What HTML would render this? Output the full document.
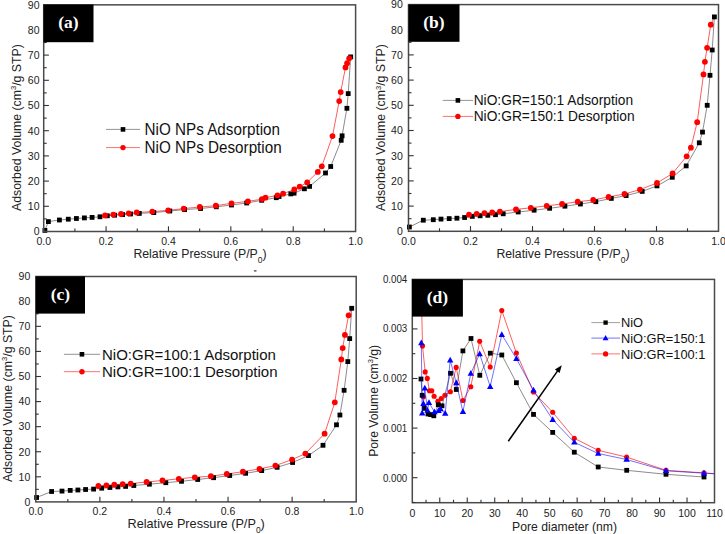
<!DOCTYPE html><html><head><meta charset="utf-8"><style>html,body{margin:0;padding:0;background:#fff;overflow:hidden}svg{display:block}</style></head><body>
<svg width="725" height="534" viewBox="0 0 725 534">
<rect x="0" y="0" width="725" height="534" fill="#fff"/>
<polyline points="105,215.4 113.3,214.6 121,214 128.7,213.3 136.7,212.5 152.3,211.6 168.2,210.4 183.7,208.6 199.8,207 215.8,205.7 231.5,203.3 247.9,201.4 262,199.1 265.5,197.7 277.5,195.3 283.1,193.7 294.3,189.5 299.7,186.7 307.2,182.4 317.8,171.9 321.8,166.3 332.5,136.1 339.2,101.1 340.7,92.1 345.5,67.4 347.1,63.2 349.2,58.3 350.7,56.9" fill="none" stroke="#ff0000" stroke-width="0.8" stroke-opacity="0.8" stroke-linejoin="round"/>
<polyline points="44.9,230.4 48.4,221.6 59.4,220 68.3,219.2 76.4,218.5 84.4,217.9 92.1,217.4 100,216.8 107.3,215.8 114.6,215.2 122.6,214.6 130.5,214 139.3,213.4 153.8,212.6 169.8,211 184.6,209.6 200.55,208.5 216.3,206.8 231.5,205 246.7,203 261.7,200.3 276.3,197.7 279.1,196.5 290.8,193.9 294.1,193.2 304.4,188.8 309.6,186.4 325.5,173 330.7,166.5 341.2,140.3 342.1,135.8 346.9,108.3 348.2,93.6 350.7,56.9" fill="none" stroke="#555" stroke-width="0.8" stroke-opacity="0.85" stroke-linejoin="round"/>
<rect x="42.5" y="228" width="4.8" height="4.8" fill="#000"/>
<rect x="46" y="219.2" width="4.8" height="4.8" fill="#000"/>
<rect x="57" y="217.6" width="4.8" height="4.8" fill="#000"/>
<rect x="65.9" y="216.8" width="4.8" height="4.8" fill="#000"/>
<rect x="74" y="216.1" width="4.8" height="4.8" fill="#000"/>
<rect x="82" y="215.5" width="4.8" height="4.8" fill="#000"/>
<rect x="89.7" y="215" width="4.8" height="4.8" fill="#000"/>
<rect x="97.6" y="214.4" width="4.8" height="4.8" fill="#000"/>
<rect x="104.9" y="213.4" width="4.8" height="4.8" fill="#000"/>
<rect x="112.2" y="212.8" width="4.8" height="4.8" fill="#000"/>
<rect x="120.2" y="212.2" width="4.8" height="4.8" fill="#000"/>
<rect x="128.1" y="211.6" width="4.8" height="4.8" fill="#000"/>
<rect x="136.9" y="211" width="4.8" height="4.8" fill="#000"/>
<rect x="151.4" y="210.2" width="4.8" height="4.8" fill="#000"/>
<rect x="167.4" y="208.6" width="4.8" height="4.8" fill="#000"/>
<rect x="182.2" y="207.2" width="4.8" height="4.8" fill="#000"/>
<rect x="198.15" y="206.1" width="4.8" height="4.8" fill="#000"/>
<rect x="213.9" y="204.4" width="4.8" height="4.8" fill="#000"/>
<rect x="229.1" y="202.6" width="4.8" height="4.8" fill="#000"/>
<rect x="244.3" y="200.6" width="4.8" height="4.8" fill="#000"/>
<rect x="259.3" y="197.9" width="4.8" height="4.8" fill="#000"/>
<rect x="273.9" y="195.3" width="4.8" height="4.8" fill="#000"/>
<rect x="276.7" y="194.1" width="4.8" height="4.8" fill="#000"/>
<rect x="288.4" y="191.5" width="4.8" height="4.8" fill="#000"/>
<rect x="291.7" y="190.8" width="4.8" height="4.8" fill="#000"/>
<rect x="302" y="186.4" width="4.8" height="4.8" fill="#000"/>
<rect x="307.2" y="184" width="4.8" height="4.8" fill="#000"/>
<rect x="323.1" y="170.6" width="4.8" height="4.8" fill="#000"/>
<rect x="328.3" y="164.1" width="4.8" height="4.8" fill="#000"/>
<rect x="338.8" y="137.9" width="4.8" height="4.8" fill="#000"/>
<rect x="339.7" y="133.4" width="4.8" height="4.8" fill="#000"/>
<rect x="344.5" y="105.9" width="4.8" height="4.8" fill="#000"/>
<rect x="345.8" y="91.2" width="4.8" height="4.8" fill="#000"/>
<rect x="348.3" y="54.5" width="4.8" height="4.8" fill="#000"/>
<circle cx="105" cy="215.4" r="2.9" fill="#f00"/>
<circle cx="113.3" cy="214.6" r="2.9" fill="#f00"/>
<circle cx="121" cy="214" r="2.9" fill="#f00"/>
<circle cx="128.7" cy="213.3" r="2.9" fill="#f00"/>
<circle cx="136.7" cy="212.5" r="2.9" fill="#f00"/>
<circle cx="152.3" cy="211.6" r="2.9" fill="#f00"/>
<circle cx="168.2" cy="210.4" r="2.9" fill="#f00"/>
<circle cx="183.7" cy="208.6" r="2.9" fill="#f00"/>
<circle cx="199.8" cy="207" r="2.9" fill="#f00"/>
<circle cx="215.8" cy="205.7" r="2.9" fill="#f00"/>
<circle cx="231.5" cy="203.3" r="2.9" fill="#f00"/>
<circle cx="247.9" cy="201.4" r="2.9" fill="#f00"/>
<circle cx="262" cy="199.1" r="2.9" fill="#f00"/>
<circle cx="265.5" cy="197.7" r="2.9" fill="#f00"/>
<circle cx="277.5" cy="195.3" r="2.9" fill="#f00"/>
<circle cx="283.1" cy="193.7" r="2.9" fill="#f00"/>
<circle cx="294.3" cy="189.5" r="2.9" fill="#f00"/>
<circle cx="299.7" cy="186.7" r="2.9" fill="#f00"/>
<circle cx="307.2" cy="182.4" r="2.9" fill="#f00"/>
<circle cx="317.8" cy="171.9" r="2.9" fill="#f00"/>
<circle cx="321.8" cy="166.3" r="2.9" fill="#f00"/>
<circle cx="332.5" cy="136.1" r="2.9" fill="#f00"/>
<circle cx="339.2" cy="101.1" r="2.9" fill="#f00"/>
<circle cx="340.7" cy="92.1" r="2.9" fill="#f00"/>
<circle cx="345.5" cy="67.4" r="2.9" fill="#f00"/>
<circle cx="347.1" cy="63.2" r="2.9" fill="#f00"/>
<circle cx="349.2" cy="58.3" r="2.9" fill="#f00"/>
<rect x="43.7" y="4.85" width="311.9" height="226.65" fill="none" stroke="#4a4a4a" stroke-width="1.5"/>
<line x1="106.08" y1="231.5" x2="106.08" y2="226.3" stroke="#333" stroke-width="1.1"/>
<line x1="168.46" y1="231.5" x2="168.46" y2="226.3" stroke="#333" stroke-width="1.1"/>
<line x1="230.84" y1="231.5" x2="230.84" y2="226.3" stroke="#333" stroke-width="1.1"/>
<line x1="293.22" y1="231.5" x2="293.22" y2="226.3" stroke="#333" stroke-width="1.1"/>
<line x1="74.89" y1="231.5" x2="74.89" y2="228.5" stroke="#333" stroke-width="1.1"/>
<line x1="137.27" y1="231.5" x2="137.27" y2="228.5" stroke="#333" stroke-width="1.1"/>
<line x1="199.65" y1="231.5" x2="199.65" y2="228.5" stroke="#333" stroke-width="1.1"/>
<line x1="262.03" y1="231.5" x2="262.03" y2="228.5" stroke="#333" stroke-width="1.1"/>
<line x1="324.41" y1="231.5" x2="324.41" y2="228.5" stroke="#333" stroke-width="1.1"/>
<line x1="43.7" y1="206.3" x2="48.9" y2="206.3" stroke="#333" stroke-width="1.1"/>
<line x1="43.7" y1="181.1" x2="48.9" y2="181.1" stroke="#333" stroke-width="1.1"/>
<line x1="43.7" y1="155.9" x2="48.9" y2="155.9" stroke="#333" stroke-width="1.1"/>
<line x1="43.7" y1="130.7" x2="48.9" y2="130.7" stroke="#333" stroke-width="1.1"/>
<line x1="43.7" y1="105.5" x2="48.9" y2="105.5" stroke="#333" stroke-width="1.1"/>
<line x1="43.7" y1="80.3" x2="48.9" y2="80.3" stroke="#333" stroke-width="1.1"/>
<line x1="43.7" y1="55.1" x2="48.9" y2="55.1" stroke="#333" stroke-width="1.1"/>
<line x1="43.7" y1="29.9" x2="48.9" y2="29.9" stroke="#333" stroke-width="1.1"/>
<line x1="43.7" y1="218.9" x2="46.7" y2="218.9" stroke="#333" stroke-width="1.1"/>
<line x1="43.7" y1="193.7" x2="46.7" y2="193.7" stroke="#333" stroke-width="1.1"/>
<line x1="43.7" y1="168.5" x2="46.7" y2="168.5" stroke="#333" stroke-width="1.1"/>
<line x1="43.7" y1="143.3" x2="46.7" y2="143.3" stroke="#333" stroke-width="1.1"/>
<line x1="43.7" y1="118.1" x2="46.7" y2="118.1" stroke="#333" stroke-width="1.1"/>
<line x1="43.7" y1="92.9" x2="46.7" y2="92.9" stroke="#333" stroke-width="1.1"/>
<line x1="43.7" y1="67.7" x2="46.7" y2="67.7" stroke="#333" stroke-width="1.1"/>
<line x1="43.7" y1="42.5" x2="46.7" y2="42.5" stroke="#333" stroke-width="1.1"/>
<line x1="43.7" y1="17.3" x2="46.7" y2="17.3" stroke="#333" stroke-width="1.1"/>
<text x="43.7" y="244.9" font-family='"Liberation Sans", sans-serif' font-size="10.5" text-anchor="middle" fill="#222" font-weight="normal" >0.0</text>
<text x="106.08" y="244.9" font-family='"Liberation Sans", sans-serif' font-size="10.5" text-anchor="middle" fill="#222" font-weight="normal" >0.2</text>
<text x="168.46" y="244.9" font-family='"Liberation Sans", sans-serif' font-size="10.5" text-anchor="middle" fill="#222" font-weight="normal" >0.4</text>
<text x="230.84" y="244.9" font-family='"Liberation Sans", sans-serif' font-size="10.5" text-anchor="middle" fill="#222" font-weight="normal" >0.6</text>
<text x="293.22" y="244.9" font-family='"Liberation Sans", sans-serif' font-size="10.5" text-anchor="middle" fill="#222" font-weight="normal" >0.8</text>
<text x="355.6" y="244.9" font-family='"Liberation Sans", sans-serif' font-size="10.5" text-anchor="middle" fill="#222" font-weight="normal" >1.0</text>
<text x="39.5" y="235.3" font-family='"Liberation Sans", sans-serif' font-size="10.5" text-anchor="end" fill="#222" font-weight="normal" >0</text>
<text x="39.5" y="210.1" font-family='"Liberation Sans", sans-serif' font-size="10.5" text-anchor="end" fill="#222" font-weight="normal" >10</text>
<text x="39.5" y="184.9" font-family='"Liberation Sans", sans-serif' font-size="10.5" text-anchor="end" fill="#222" font-weight="normal" >20</text>
<text x="39.5" y="159.7" font-family='"Liberation Sans", sans-serif' font-size="10.5" text-anchor="end" fill="#222" font-weight="normal" >30</text>
<text x="39.5" y="134.5" font-family='"Liberation Sans", sans-serif' font-size="10.5" text-anchor="end" fill="#222" font-weight="normal" >40</text>
<text x="39.5" y="109.3" font-family='"Liberation Sans", sans-serif' font-size="10.5" text-anchor="end" fill="#222" font-weight="normal" >50</text>
<text x="39.5" y="84.1" font-family='"Liberation Sans", sans-serif' font-size="10.5" text-anchor="end" fill="#222" font-weight="normal" >60</text>
<text x="39.5" y="58.9" font-family='"Liberation Sans", sans-serif' font-size="10.5" text-anchor="end" fill="#222" font-weight="normal" >70</text>
<text x="39.5" y="33.7" font-family='"Liberation Sans", sans-serif' font-size="10.5" text-anchor="end" fill="#222" font-weight="normal" >80</text>
<text x="39.5" y="8.5" font-family='"Liberation Sans", sans-serif' font-size="10.5" text-anchor="end" fill="#222" font-weight="normal" >90</text>
<text x="200" y="257.8" font-family='"Liberation Sans", sans-serif' font-size="12.3" text-anchor="middle" fill="#222">Relative Pressure (P/P<tspan font-size="8.5" dy="4.8">0</tspan><tspan dy="-4.8">)</tspan></text>
<text transform="translate(20.6,127.6) rotate(-90)" x="0" y="0" font-family='"Liberation Sans", sans-serif' font-size="12.3" text-anchor="middle" fill="#222">Adsorbed Volume (cm<tspan font-size="7.5" dy="-4.5">3</tspan><tspan dy="4.5">/g STP)</tspan></text>
<line x1="106" y1="129.4" x2="140" y2="129.4" stroke="#555" stroke-width="0.8" stroke-opacity="0.8"/>
<line x1="106" y1="147.6" x2="140" y2="147.6" stroke="#f00" stroke-width="0.8" stroke-opacity="0.7"/>
<rect x="120.7" y="127.1" width="4.6" height="4.6" fill="#000"/>
<circle cx="123" cy="147.6" r="2.7" fill="#f00"/>
<text transform="translate(144.6,134.7) scale(0.94,1)" x="0" y="0" font-family='"Liberation Sans", sans-serif' font-size="16.2" text-anchor="start" fill="#111" font-weight="normal" >NiO NPs Adsorption</text>
<text transform="translate(144.6,152.8) scale(0.94,1)" x="0" y="0" font-family='"Liberation Sans", sans-serif' font-size="16.2" text-anchor="start" fill="#111" font-weight="normal" >NiO NPs Desorption</text>
<rect x="43.5" y="4.5" width="50" height="37.7" fill="#000"/>
<text x="68.5" y="28.25" font-family='"Liberation Serif", serif' font-size="17.5" text-anchor="middle" fill="#fff" font-weight="bold" >(a)</text>
<polyline points="469,214.7 476.7,213.8 484.5,213.1 492.2,212.5 499.9,211.6 516,209.4 530.8,207.8 546.7,205.8 562.1,204 577.7,201.7 593.2,200 608.6,196.9 624.5,194 640,189.6 657,183 672.6,173.4 686.7,156.3 690.9,147.7 697.2,122.2 703.5,74.4 704.9,61.8 707.1,47.8 710.8,24.7 714.4,16.9" fill="none" stroke="#ff0000" stroke-width="0.8" stroke-opacity="0.8" stroke-linejoin="round"/>
<polyline points="409.4,227 423.3,220.2 433.3,219.7 441,219.1 449.2,218.6 456.9,218.2 464.6,217.5 472.3,216.4 480.1,215.8 487.8,215.3 495.5,214.7 503.2,213.8 518.2,212 534.1,210.2 549.6,208.3 564.9,206.2 580.4,204 595.8,201.7 611.3,198.4 626.1,195.6 642.2,191.4 657,185.9 672.3,177.3 686.2,165.9 699.3,142.8 702.5,132.1 707.2,105.3 710,75.3 712.2,50 714.4,16.9" fill="none" stroke="#555" stroke-width="0.8" stroke-opacity="0.85" stroke-linejoin="round"/>
<rect x="407" y="224.6" width="4.8" height="4.8" fill="#000"/>
<rect x="420.9" y="217.8" width="4.8" height="4.8" fill="#000"/>
<rect x="430.9" y="217.3" width="4.8" height="4.8" fill="#000"/>
<rect x="438.6" y="216.7" width="4.8" height="4.8" fill="#000"/>
<rect x="446.8" y="216.2" width="4.8" height="4.8" fill="#000"/>
<rect x="454.5" y="215.8" width="4.8" height="4.8" fill="#000"/>
<rect x="462.2" y="215.1" width="4.8" height="4.8" fill="#000"/>
<rect x="469.9" y="214" width="4.8" height="4.8" fill="#000"/>
<rect x="477.7" y="213.4" width="4.8" height="4.8" fill="#000"/>
<rect x="485.4" y="212.9" width="4.8" height="4.8" fill="#000"/>
<rect x="493.1" y="212.3" width="4.8" height="4.8" fill="#000"/>
<rect x="500.8" y="211.4" width="4.8" height="4.8" fill="#000"/>
<rect x="515.8" y="209.6" width="4.8" height="4.8" fill="#000"/>
<rect x="531.7" y="207.8" width="4.8" height="4.8" fill="#000"/>
<rect x="547.2" y="205.9" width="4.8" height="4.8" fill="#000"/>
<rect x="562.5" y="203.8" width="4.8" height="4.8" fill="#000"/>
<rect x="578" y="201.6" width="4.8" height="4.8" fill="#000"/>
<rect x="593.4" y="199.3" width="4.8" height="4.8" fill="#000"/>
<rect x="608.9" y="196" width="4.8" height="4.8" fill="#000"/>
<rect x="623.7" y="193.2" width="4.8" height="4.8" fill="#000"/>
<rect x="639.8" y="189" width="4.8" height="4.8" fill="#000"/>
<rect x="654.6" y="183.5" width="4.8" height="4.8" fill="#000"/>
<rect x="669.9" y="174.9" width="4.8" height="4.8" fill="#000"/>
<rect x="683.8" y="163.5" width="4.8" height="4.8" fill="#000"/>
<rect x="696.9" y="140.4" width="4.8" height="4.8" fill="#000"/>
<rect x="700.1" y="129.7" width="4.8" height="4.8" fill="#000"/>
<rect x="704.8" y="102.9" width="4.8" height="4.8" fill="#000"/>
<rect x="707.6" y="72.9" width="4.8" height="4.8" fill="#000"/>
<rect x="709.8" y="47.6" width="4.8" height="4.8" fill="#000"/>
<rect x="712" y="14.5" width="4.8" height="4.8" fill="#000"/>
<circle cx="469" cy="214.7" r="2.9" fill="#f00"/>
<circle cx="476.7" cy="213.8" r="2.9" fill="#f00"/>
<circle cx="484.5" cy="213.1" r="2.9" fill="#f00"/>
<circle cx="492.2" cy="212.5" r="2.9" fill="#f00"/>
<circle cx="499.9" cy="211.6" r="2.9" fill="#f00"/>
<circle cx="516" cy="209.4" r="2.9" fill="#f00"/>
<circle cx="530.8" cy="207.8" r="2.9" fill="#f00"/>
<circle cx="546.7" cy="205.8" r="2.9" fill="#f00"/>
<circle cx="562.1" cy="204" r="2.9" fill="#f00"/>
<circle cx="577.7" cy="201.7" r="2.9" fill="#f00"/>
<circle cx="593.2" cy="200" r="2.9" fill="#f00"/>
<circle cx="608.6" cy="196.9" r="2.9" fill="#f00"/>
<circle cx="624.5" cy="194" r="2.9" fill="#f00"/>
<circle cx="640" cy="189.6" r="2.9" fill="#f00"/>
<circle cx="657" cy="183" r="2.9" fill="#f00"/>
<circle cx="672.6" cy="173.4" r="2.9" fill="#f00"/>
<circle cx="686.7" cy="156.3" r="2.9" fill="#f00"/>
<circle cx="690.9" cy="147.7" r="2.9" fill="#f00"/>
<circle cx="697.2" cy="122.2" r="2.9" fill="#f00"/>
<circle cx="703.5" cy="74.4" r="2.9" fill="#f00"/>
<circle cx="704.9" cy="61.8" r="2.9" fill="#f00"/>
<circle cx="707.1" cy="47.8" r="2.9" fill="#f00"/>
<circle cx="710.8" cy="24.7" r="2.9" fill="#f00"/>
<rect x="408.5" y="4.6" width="310" height="226.7" fill="none" stroke="#4a4a4a" stroke-width="1.5"/>
<line x1="470.5" y1="231.3" x2="470.5" y2="226.1" stroke="#333" stroke-width="1.1"/>
<line x1="532.5" y1="231.3" x2="532.5" y2="226.1" stroke="#333" stroke-width="1.1"/>
<line x1="594.5" y1="231.3" x2="594.5" y2="226.1" stroke="#333" stroke-width="1.1"/>
<line x1="656.5" y1="231.3" x2="656.5" y2="226.1" stroke="#333" stroke-width="1.1"/>
<line x1="439.5" y1="231.3" x2="439.5" y2="228.3" stroke="#333" stroke-width="1.1"/>
<line x1="501.5" y1="231.3" x2="501.5" y2="228.3" stroke="#333" stroke-width="1.1"/>
<line x1="563.5" y1="231.3" x2="563.5" y2="228.3" stroke="#333" stroke-width="1.1"/>
<line x1="625.5" y1="231.3" x2="625.5" y2="228.3" stroke="#333" stroke-width="1.1"/>
<line x1="687.5" y1="231.3" x2="687.5" y2="228.3" stroke="#333" stroke-width="1.1"/>
<line x1="408.5" y1="206.1" x2="413.7" y2="206.1" stroke="#333" stroke-width="1.1"/>
<line x1="408.5" y1="180.9" x2="413.7" y2="180.9" stroke="#333" stroke-width="1.1"/>
<line x1="408.5" y1="155.7" x2="413.7" y2="155.7" stroke="#333" stroke-width="1.1"/>
<line x1="408.5" y1="130.5" x2="413.7" y2="130.5" stroke="#333" stroke-width="1.1"/>
<line x1="408.5" y1="105.3" x2="413.7" y2="105.3" stroke="#333" stroke-width="1.1"/>
<line x1="408.5" y1="80.1" x2="413.7" y2="80.1" stroke="#333" stroke-width="1.1"/>
<line x1="408.5" y1="54.9" x2="413.7" y2="54.9" stroke="#333" stroke-width="1.1"/>
<line x1="408.5" y1="29.7" x2="413.7" y2="29.7" stroke="#333" stroke-width="1.1"/>
<line x1="408.5" y1="218.7" x2="411.5" y2="218.7" stroke="#333" stroke-width="1.1"/>
<line x1="408.5" y1="193.5" x2="411.5" y2="193.5" stroke="#333" stroke-width="1.1"/>
<line x1="408.5" y1="168.3" x2="411.5" y2="168.3" stroke="#333" stroke-width="1.1"/>
<line x1="408.5" y1="143.1" x2="411.5" y2="143.1" stroke="#333" stroke-width="1.1"/>
<line x1="408.5" y1="117.9" x2="411.5" y2="117.9" stroke="#333" stroke-width="1.1"/>
<line x1="408.5" y1="92.7" x2="411.5" y2="92.7" stroke="#333" stroke-width="1.1"/>
<line x1="408.5" y1="67.5" x2="411.5" y2="67.5" stroke="#333" stroke-width="1.1"/>
<line x1="408.5" y1="42.3" x2="411.5" y2="42.3" stroke="#333" stroke-width="1.1"/>
<line x1="408.5" y1="17.1" x2="411.5" y2="17.1" stroke="#333" stroke-width="1.1"/>
<text x="408.5" y="244.7" font-family='"Liberation Sans", sans-serif' font-size="10.5" text-anchor="middle" fill="#222" font-weight="normal" >0.0</text>
<text x="470.5" y="244.7" font-family='"Liberation Sans", sans-serif' font-size="10.5" text-anchor="middle" fill="#222" font-weight="normal" >0.2</text>
<text x="532.5" y="244.7" font-family='"Liberation Sans", sans-serif' font-size="10.5" text-anchor="middle" fill="#222" font-weight="normal" >0.4</text>
<text x="594.5" y="244.7" font-family='"Liberation Sans", sans-serif' font-size="10.5" text-anchor="middle" fill="#222" font-weight="normal" >0.6</text>
<text x="656.5" y="244.7" font-family='"Liberation Sans", sans-serif' font-size="10.5" text-anchor="middle" fill="#222" font-weight="normal" >0.8</text>
<text x="718.5" y="244.7" font-family='"Liberation Sans", sans-serif' font-size="10.5" text-anchor="middle" fill="#222" font-weight="normal" >1.0</text>
<text x="402.8" y="235.1" font-family='"Liberation Sans", sans-serif' font-size="10.5" text-anchor="end" fill="#222" font-weight="normal" >0</text>
<text x="402.8" y="209.9" font-family='"Liberation Sans", sans-serif' font-size="10.5" text-anchor="end" fill="#222" font-weight="normal" >10</text>
<text x="402.8" y="184.7" font-family='"Liberation Sans", sans-serif' font-size="10.5" text-anchor="end" fill="#222" font-weight="normal" >20</text>
<text x="402.8" y="159.5" font-family='"Liberation Sans", sans-serif' font-size="10.5" text-anchor="end" fill="#222" font-weight="normal" >30</text>
<text x="402.8" y="134.3" font-family='"Liberation Sans", sans-serif' font-size="10.5" text-anchor="end" fill="#222" font-weight="normal" >40</text>
<text x="402.8" y="109.1" font-family='"Liberation Sans", sans-serif' font-size="10.5" text-anchor="end" fill="#222" font-weight="normal" >50</text>
<text x="402.8" y="83.9" font-family='"Liberation Sans", sans-serif' font-size="10.5" text-anchor="end" fill="#222" font-weight="normal" >60</text>
<text x="402.8" y="58.7" font-family='"Liberation Sans", sans-serif' font-size="10.5" text-anchor="end" fill="#222" font-weight="normal" >70</text>
<text x="402.8" y="33.5" font-family='"Liberation Sans", sans-serif' font-size="10.5" text-anchor="end" fill="#222" font-weight="normal" >80</text>
<text x="402.8" y="8.3" font-family='"Liberation Sans", sans-serif' font-size="10.5" text-anchor="end" fill="#222" font-weight="normal" >90</text>
<text x="563" y="257.8" font-family='"Liberation Sans", sans-serif' font-size="12.3" text-anchor="middle" fill="#222">Relative Pressure (P/P<tspan font-size="8.5" dy="4.8">0</tspan><tspan dy="-4.8">)</tspan></text>
<text transform="translate(385.4,127.6) rotate(-90)" x="0" y="0" font-family='"Liberation Sans", sans-serif' font-size="12.3" text-anchor="middle" fill="#222">Adsorbed Volume (cm<tspan font-size="7.5" dy="-4.5">3</tspan><tspan dy="4.5">/g STP)</tspan></text>
<line x1="442.8" y1="100.4" x2="473" y2="100.4" stroke="#555" stroke-width="0.8" stroke-opacity="0.8"/>
<line x1="442.8" y1="116.4" x2="473" y2="116.4" stroke="#f00" stroke-width="0.8" stroke-opacity="0.7"/>
<rect x="455.6" y="98.1" width="4.6" height="4.6" fill="#000"/>
<circle cx="457.9" cy="116.4" r="2.7" fill="#f00"/>
<text x="473.7" y="105.35" font-family='"Liberation Sans", sans-serif' font-size="13.75" text-anchor="start" fill="#111" font-weight="normal" >NiO:GR=150:1 Adsorption</text>
<text x="473.7" y="121.35" font-family='"Liberation Sans", sans-serif' font-size="13.75" text-anchor="start" fill="#111" font-weight="normal" >NiO:GR=150:1 Desorption</text>
<rect x="408.5" y="4.5" width="51" height="37.3" fill="#000"/>
<text x="434" y="28.05" font-family='"Liberation Serif", serif' font-size="17.5" text-anchor="middle" fill="#fff" font-weight="bold" >(b)</text>
<polyline points="98.4,486 106.4,485.3 114.3,484.7 122.7,484.2 130.7,483.6 146.6,482 162.5,480.5 178.8,478.8 194.8,477.3 210.9,476.2 226.8,474 242.9,471.7 259.5,468.9 275.4,465.6 292.1,459.6 305.4,453.6 324.6,433.7 334.8,402.3 341.3,359.4 342.7,348.1 344.9,334.9 348.6,315.3 351.7,308.3" fill="none" stroke="#ff0000" stroke-width="0.8" stroke-opacity="0.8" stroke-linejoin="round"/>
<polyline points="36.6,497.5 51.6,491.5 62,491.1 70.2,490.4 77.9,490 85.6,489.5 93.6,489.1 101.7,488.2 109.9,487.5 117.9,486.9 125.6,486.4 133.8,485.5 149.4,484.2 165.8,482.7 181.5,481.3 197.7,479.5 213.6,477.7 229.7,475.5 245.6,473.3 261.7,470.6 277.1,467.3 292.6,462.5 308.5,455.6 323,445.3 336.5,424.8 339.9,415 344.1,390.3 347.8,361.6 349.7,338.6 351.7,308.3" fill="none" stroke="#555" stroke-width="0.8" stroke-opacity="0.85" stroke-linejoin="round"/>
<rect x="34.2" y="495.1" width="4.8" height="4.8" fill="#000"/>
<rect x="49.2" y="489.1" width="4.8" height="4.8" fill="#000"/>
<rect x="59.6" y="488.7" width="4.8" height="4.8" fill="#000"/>
<rect x="67.8" y="488" width="4.8" height="4.8" fill="#000"/>
<rect x="75.5" y="487.6" width="4.8" height="4.8" fill="#000"/>
<rect x="83.2" y="487.1" width="4.8" height="4.8" fill="#000"/>
<rect x="91.2" y="486.7" width="4.8" height="4.8" fill="#000"/>
<rect x="99.3" y="485.8" width="4.8" height="4.8" fill="#000"/>
<rect x="107.5" y="485.1" width="4.8" height="4.8" fill="#000"/>
<rect x="115.5" y="484.5" width="4.8" height="4.8" fill="#000"/>
<rect x="123.2" y="484" width="4.8" height="4.8" fill="#000"/>
<rect x="131.4" y="483.1" width="4.8" height="4.8" fill="#000"/>
<rect x="147" y="481.8" width="4.8" height="4.8" fill="#000"/>
<rect x="163.4" y="480.3" width="4.8" height="4.8" fill="#000"/>
<rect x="179.1" y="478.9" width="4.8" height="4.8" fill="#000"/>
<rect x="195.3" y="477.1" width="4.8" height="4.8" fill="#000"/>
<rect x="211.2" y="475.3" width="4.8" height="4.8" fill="#000"/>
<rect x="227.3" y="473.1" width="4.8" height="4.8" fill="#000"/>
<rect x="243.2" y="470.9" width="4.8" height="4.8" fill="#000"/>
<rect x="259.3" y="468.2" width="4.8" height="4.8" fill="#000"/>
<rect x="274.7" y="464.9" width="4.8" height="4.8" fill="#000"/>
<rect x="290.2" y="460.1" width="4.8" height="4.8" fill="#000"/>
<rect x="306.1" y="453.2" width="4.8" height="4.8" fill="#000"/>
<rect x="320.6" y="442.9" width="4.8" height="4.8" fill="#000"/>
<rect x="334.1" y="422.4" width="4.8" height="4.8" fill="#000"/>
<rect x="337.5" y="412.6" width="4.8" height="4.8" fill="#000"/>
<rect x="341.7" y="387.9" width="4.8" height="4.8" fill="#000"/>
<rect x="345.4" y="359.2" width="4.8" height="4.8" fill="#000"/>
<rect x="347.3" y="336.2" width="4.8" height="4.8" fill="#000"/>
<rect x="349.3" y="305.9" width="4.8" height="4.8" fill="#000"/>
<circle cx="98.4" cy="486" r="2.9" fill="#f00"/>
<circle cx="106.4" cy="485.3" r="2.9" fill="#f00"/>
<circle cx="114.3" cy="484.7" r="2.9" fill="#f00"/>
<circle cx="122.7" cy="484.2" r="2.9" fill="#f00"/>
<circle cx="130.7" cy="483.6" r="2.9" fill="#f00"/>
<circle cx="146.6" cy="482" r="2.9" fill="#f00"/>
<circle cx="162.5" cy="480.5" r="2.9" fill="#f00"/>
<circle cx="178.8" cy="478.8" r="2.9" fill="#f00"/>
<circle cx="194.8" cy="477.3" r="2.9" fill="#f00"/>
<circle cx="210.9" cy="476.2" r="2.9" fill="#f00"/>
<circle cx="226.8" cy="474" r="2.9" fill="#f00"/>
<circle cx="242.9" cy="471.7" r="2.9" fill="#f00"/>
<circle cx="259.5" cy="468.9" r="2.9" fill="#f00"/>
<circle cx="275.4" cy="465.6" r="2.9" fill="#f00"/>
<circle cx="292.1" cy="459.6" r="2.9" fill="#f00"/>
<circle cx="305.4" cy="453.6" r="2.9" fill="#f00"/>
<circle cx="324.6" cy="433.7" r="2.9" fill="#f00"/>
<circle cx="334.8" cy="402.3" r="2.9" fill="#f00"/>
<circle cx="341.3" cy="359.4" r="2.9" fill="#f00"/>
<circle cx="342.7" cy="348.1" r="2.9" fill="#f00"/>
<circle cx="344.9" cy="334.9" r="2.9" fill="#f00"/>
<circle cx="348.6" cy="315.3" r="2.9" fill="#f00"/>
<rect x="35.8" y="276.5" width="320.4" height="225.4" fill="none" stroke="#4a4a4a" stroke-width="1.5"/>
<line x1="99.88" y1="501.9" x2="99.88" y2="496.7" stroke="#333" stroke-width="1.1"/>
<line x1="163.96" y1="501.9" x2="163.96" y2="496.7" stroke="#333" stroke-width="1.1"/>
<line x1="228.04" y1="501.9" x2="228.04" y2="496.7" stroke="#333" stroke-width="1.1"/>
<line x1="292.12" y1="501.9" x2="292.12" y2="496.7" stroke="#333" stroke-width="1.1"/>
<line x1="67.84" y1="501.9" x2="67.84" y2="498.9" stroke="#333" stroke-width="1.1"/>
<line x1="131.92" y1="501.9" x2="131.92" y2="498.9" stroke="#333" stroke-width="1.1"/>
<line x1="196" y1="501.9" x2="196" y2="498.9" stroke="#333" stroke-width="1.1"/>
<line x1="260.08" y1="501.9" x2="260.08" y2="498.9" stroke="#333" stroke-width="1.1"/>
<line x1="324.16" y1="501.9" x2="324.16" y2="498.9" stroke="#333" stroke-width="1.1"/>
<line x1="35.8" y1="476.82" x2="41" y2="476.82" stroke="#333" stroke-width="1.1"/>
<line x1="35.8" y1="451.74" x2="41" y2="451.74" stroke="#333" stroke-width="1.1"/>
<line x1="35.8" y1="426.66" x2="41" y2="426.66" stroke="#333" stroke-width="1.1"/>
<line x1="35.8" y1="401.58" x2="41" y2="401.58" stroke="#333" stroke-width="1.1"/>
<line x1="35.8" y1="376.5" x2="41" y2="376.5" stroke="#333" stroke-width="1.1"/>
<line x1="35.8" y1="351.42" x2="41" y2="351.42" stroke="#333" stroke-width="1.1"/>
<line x1="35.8" y1="326.34" x2="41" y2="326.34" stroke="#333" stroke-width="1.1"/>
<line x1="35.8" y1="301.26" x2="41" y2="301.26" stroke="#333" stroke-width="1.1"/>
<line x1="35.8" y1="489.36" x2="38.8" y2="489.36" stroke="#333" stroke-width="1.1"/>
<line x1="35.8" y1="464.28" x2="38.8" y2="464.28" stroke="#333" stroke-width="1.1"/>
<line x1="35.8" y1="439.2" x2="38.8" y2="439.2" stroke="#333" stroke-width="1.1"/>
<line x1="35.8" y1="414.12" x2="38.8" y2="414.12" stroke="#333" stroke-width="1.1"/>
<line x1="35.8" y1="389.04" x2="38.8" y2="389.04" stroke="#333" stroke-width="1.1"/>
<line x1="35.8" y1="363.96" x2="38.8" y2="363.96" stroke="#333" stroke-width="1.1"/>
<line x1="35.8" y1="338.88" x2="38.8" y2="338.88" stroke="#333" stroke-width="1.1"/>
<line x1="35.8" y1="313.8" x2="38.8" y2="313.8" stroke="#333" stroke-width="1.1"/>
<line x1="35.8" y1="288.72" x2="38.8" y2="288.72" stroke="#333" stroke-width="1.1"/>
<text x="35.8" y="515.3" font-family='"Liberation Sans", sans-serif' font-size="10.5" text-anchor="middle" fill="#222" font-weight="normal" >0.0</text>
<text x="99.88" y="515.3" font-family='"Liberation Sans", sans-serif' font-size="10.5" text-anchor="middle" fill="#222" font-weight="normal" >0.2</text>
<text x="163.96" y="515.3" font-family='"Liberation Sans", sans-serif' font-size="10.5" text-anchor="middle" fill="#222" font-weight="normal" >0.4</text>
<text x="228.04" y="515.3" font-family='"Liberation Sans", sans-serif' font-size="10.5" text-anchor="middle" fill="#222" font-weight="normal" >0.6</text>
<text x="292.12" y="515.3" font-family='"Liberation Sans", sans-serif' font-size="10.5" text-anchor="middle" fill="#222" font-weight="normal" >0.8</text>
<text x="356.2" y="515.3" font-family='"Liberation Sans", sans-serif' font-size="10.5" text-anchor="middle" fill="#222" font-weight="normal" >1.0</text>
<text x="30.3" y="505.7" font-family='"Liberation Sans", sans-serif' font-size="10.5" text-anchor="end" fill="#222" font-weight="normal" >0</text>
<text x="30.3" y="480.62" font-family='"Liberation Sans", sans-serif' font-size="10.5" text-anchor="end" fill="#222" font-weight="normal" >10</text>
<text x="30.3" y="455.54" font-family='"Liberation Sans", sans-serif' font-size="10.5" text-anchor="end" fill="#222" font-weight="normal" >20</text>
<text x="30.3" y="430.46" font-family='"Liberation Sans", sans-serif' font-size="10.5" text-anchor="end" fill="#222" font-weight="normal" >30</text>
<text x="30.3" y="405.38" font-family='"Liberation Sans", sans-serif' font-size="10.5" text-anchor="end" fill="#222" font-weight="normal" >40</text>
<text x="30.3" y="380.3" font-family='"Liberation Sans", sans-serif' font-size="10.5" text-anchor="end" fill="#222" font-weight="normal" >50</text>
<text x="30.3" y="355.22" font-family='"Liberation Sans", sans-serif' font-size="10.5" text-anchor="end" fill="#222" font-weight="normal" >60</text>
<text x="30.3" y="330.14" font-family='"Liberation Sans", sans-serif' font-size="10.5" text-anchor="end" fill="#222" font-weight="normal" >70</text>
<text x="30.3" y="305.06" font-family='"Liberation Sans", sans-serif' font-size="10.5" text-anchor="end" fill="#222" font-weight="normal" >80</text>
<text x="30.3" y="279.98" font-family='"Liberation Sans", sans-serif' font-size="10.5" text-anchor="end" fill="#222" font-weight="normal" >90</text>
<text x="196.2" y="528.2" font-family='"Liberation Sans", sans-serif' font-size="12.7" text-anchor="middle" fill="#222">Relative Pressure (P/P<tspan font-size="8.5" dy="4.8">0</tspan><tspan dy="-4.8">)</tspan></text>
<text transform="translate(11.6,398.5) rotate(-90)" x="0" y="0" font-family='"Liberation Sans", sans-serif' font-size="12.3" text-anchor="middle" fill="#222">Adsorbed Volume (cm<tspan font-size="7.5" dy="-4.5">3</tspan><tspan dy="4.5">/g STP)</tspan></text>
<line x1="63.9" y1="354.3" x2="100" y2="354.3" stroke="#555" stroke-width="0.8" stroke-opacity="0.8"/>
<line x1="63.9" y1="371.7" x2="100" y2="371.7" stroke="#f00" stroke-width="0.8" stroke-opacity="0.7"/>
<rect x="79.65" y="352" width="4.6" height="4.6" fill="#000"/>
<circle cx="81.95" cy="371.7" r="2.7" fill="#f00"/>
<text x="102" y="359.7" font-family='"Liberation Sans", sans-serif' font-size="15" text-anchor="start" fill="#111" font-weight="normal" >NiO:GR=100:1 Adsorption</text>
<text x="102" y="377.1" font-family='"Liberation Sans", sans-serif' font-size="15" text-anchor="start" fill="#111" font-weight="normal" >NiO:GR=100:1 Desorption</text>
<rect x="35.8" y="276.3" width="49.2" height="37.3" fill="#000"/>
<text x="60.4" y="299.85" font-family='"Liberation Serif", serif' font-size="17.5" text-anchor="middle" fill="#fff" font-weight="bold" >(c)</text>
<polyline points="421.2,285 422.5,345.9 425.2,371.9 427.3,378.4 429.4,390.8 431.8,390.8 434.1,396.2 437.9,401.4 441.2,398.6 444.9,395.3 450.4,391.7 456.2,367.4 462.9,400.5 470.8,386.7 479.7,341.3 490.2,367 501.8,310.5 516.4,353 533.5,392 552.7,412.3 574.3,438.3 598.2,450.3 626.6,457.1 666,470.3 704,472.9 714.5,473.6" fill="none" stroke="#ff0000" stroke-width="0.8" stroke-opacity="0.8" stroke-linejoin="round"/>
<circle cx="423.4" cy="396.7" r="2.55" fill="#f00"/>
<circle cx="422.5" cy="345.9" r="2.55" fill="#f00"/>
<circle cx="425.2" cy="371.9" r="2.55" fill="#f00"/>
<circle cx="427.3" cy="378.4" r="2.55" fill="#f00"/>
<circle cx="429.4" cy="390.8" r="2.55" fill="#f00"/>
<circle cx="431.8" cy="390.8" r="2.55" fill="#f00"/>
<circle cx="434.1" cy="396.2" r="2.55" fill="#f00"/>
<circle cx="437.9" cy="401.4" r="2.55" fill="#f00"/>
<circle cx="441.2" cy="398.6" r="2.55" fill="#f00"/>
<circle cx="444.9" cy="395.3" r="2.55" fill="#f00"/>
<circle cx="450.4" cy="391.7" r="2.55" fill="#f00"/>
<circle cx="456.2" cy="367.4" r="2.55" fill="#f00"/>
<circle cx="462.9" cy="400.5" r="2.55" fill="#f00"/>
<circle cx="470.8" cy="386.7" r="2.55" fill="#f00"/>
<circle cx="479.7" cy="341.3" r="2.55" fill="#f00"/>
<circle cx="490.2" cy="367" r="2.55" fill="#f00"/>
<circle cx="501.8" cy="310.5" r="2.55" fill="#f00"/>
<circle cx="516.4" cy="353" r="2.55" fill="#f00"/>
<circle cx="533.5" cy="392" r="2.55" fill="#f00"/>
<circle cx="552.7" cy="412.3" r="2.55" fill="#f00"/>
<circle cx="574.3" cy="438.3" r="2.55" fill="#f00"/>
<circle cx="598.2" cy="450.3" r="2.55" fill="#f00"/>
<circle cx="626.6" cy="457.1" r="2.55" fill="#f00"/>
<circle cx="666" cy="470.3" r="2.55" fill="#f00"/>
<circle cx="704" cy="472.9" r="2.55" fill="#f00"/>
<polyline points="421,379 422.2,395.3 424.3,408.4 428,414 430.7,414.6 433.8,415.8 438.3,404.8 442,405.8 450.5,373.3 456.3,389.5 462.9,350.9 471,338.5 479.8,375.3 490.3,353.2 501.8,355 516.4,382.7 533.5,414.4 552.7,432.4 574.3,452.2 598.2,467 626.7,470.3 666,474.3 704,477" fill="none" stroke="#555" stroke-width="0.8" stroke-opacity="0.85" stroke-linejoin="round"/>
<rect x="418.6" y="376.6" width="4.8" height="4.8" fill="#000"/>
<rect x="419.8" y="392.9" width="4.8" height="4.8" fill="#000"/>
<rect x="421.9" y="406" width="4.8" height="4.8" fill="#000"/>
<rect x="425.6" y="411.6" width="4.8" height="4.8" fill="#000"/>
<rect x="428.3" y="412.2" width="4.8" height="4.8" fill="#000"/>
<rect x="431.4" y="413.4" width="4.8" height="4.8" fill="#000"/>
<rect x="435.9" y="402.4" width="4.8" height="4.8" fill="#000"/>
<rect x="439.6" y="403.4" width="4.8" height="4.8" fill="#000"/>
<rect x="448.1" y="370.9" width="4.8" height="4.8" fill="#000"/>
<rect x="453.9" y="387.1" width="4.8" height="4.8" fill="#000"/>
<rect x="460.5" y="348.5" width="4.8" height="4.8" fill="#000"/>
<rect x="468.6" y="336.1" width="4.8" height="4.8" fill="#000"/>
<rect x="477.4" y="372.9" width="4.8" height="4.8" fill="#000"/>
<rect x="487.9" y="350.8" width="4.8" height="4.8" fill="#000"/>
<rect x="499.4" y="352.6" width="4.8" height="4.8" fill="#000"/>
<rect x="514" y="380.3" width="4.8" height="4.8" fill="#000"/>
<rect x="531.1" y="412" width="4.8" height="4.8" fill="#000"/>
<rect x="550.3" y="430" width="4.8" height="4.8" fill="#000"/>
<rect x="571.9" y="449.8" width="4.8" height="4.8" fill="#000"/>
<rect x="595.8" y="464.6" width="4.8" height="4.8" fill="#000"/>
<rect x="624.3" y="467.9" width="4.8" height="4.8" fill="#000"/>
<rect x="663.6" y="471.9" width="4.8" height="4.8" fill="#000"/>
<rect x="701.6" y="474.6" width="4.8" height="4.8" fill="#000"/>
<polyline points="421.3,342.9 422.2,413.1 423.4,403.7 424.8,388.3 427.5,410.5 429,402.8 434.5,412 438.6,410.7 440.5,409 445.2,413.4 450.2,360.3 456.3,382.9 462.9,411.8 470.8,373.5 479.7,353.9 490.2,386.6 501.8,334.7 516.4,358.6 533.5,390.3 552.7,419.7 574.3,442.3 598.2,453.5 626.6,459.5 666,470.8 704,473.2 714.5,473.8" fill="none" stroke="#0000ff" stroke-width="0.8" stroke-opacity="0.7" stroke-linejoin="round"/>
<polygon points="421.3,339.44 418.1,345.2 424.5,345.2" fill="#00f"/>
<polygon points="422.2,409.64 419,415.4 425.4,415.4" fill="#00f"/>
<polygon points="423.4,400.24 420.2,406 426.6,406" fill="#00f"/>
<polygon points="424.8,384.84 421.6,390.6 428,390.6" fill="#00f"/>
<polygon points="427.5,407.04 424.3,412.8 430.7,412.8" fill="#00f"/>
<polygon points="429,399.34 425.8,405.1 432.2,405.1" fill="#00f"/>
<polygon points="434.5,408.54 431.3,414.3 437.7,414.3" fill="#00f"/>
<polygon points="438.6,407.24 435.4,413 441.8,413" fill="#00f"/>
<polygon points="440.5,405.54 437.3,411.3 443.7,411.3" fill="#00f"/>
<polygon points="445.2,409.94 442,415.7 448.4,415.7" fill="#00f"/>
<polygon points="450.2,356.84 447,362.6 453.4,362.6" fill="#00f"/>
<polygon points="456.3,379.44 453.1,385.2 459.5,385.2" fill="#00f"/>
<polygon points="462.9,408.34 459.7,414.1 466.1,414.1" fill="#00f"/>
<polygon points="470.8,370.04 467.6,375.8 474,375.8" fill="#00f"/>
<polygon points="479.7,350.44 476.5,356.2 482.9,356.2" fill="#00f"/>
<polygon points="490.2,383.14 487,388.9 493.4,388.9" fill="#00f"/>
<polygon points="501.8,331.24 498.6,337 505,337" fill="#00f"/>
<polygon points="516.4,355.14 513.2,360.9 519.6,360.9" fill="#00f"/>
<polygon points="533.5,386.84 530.3,392.6 536.7,392.6" fill="#00f"/>
<polygon points="552.7,416.24 549.5,422 555.9,422" fill="#00f"/>
<polygon points="574.3,438.84 571.1,444.6 577.5,444.6" fill="#00f"/>
<polygon points="598.2,450.04 595,455.8 601.4,455.8" fill="#00f"/>
<polygon points="626.6,456.04 623.4,461.8 629.8,461.8" fill="#00f"/>
<polygon points="666,467.34 662.8,473.1 669.2,473.1" fill="#00f"/>
<polygon points="704,469.74 700.8,475.5 707.2,475.5" fill="#00f"/>
<rect x="412.3" y="279.4" width="302.2" height="223.3" fill="none" stroke="#4a4a4a" stroke-width="1.5"/>
<line x1="439.77" y1="502.7" x2="439.77" y2="497.5" stroke="#333" stroke-width="1.1"/>
<line x1="467.25" y1="502.7" x2="467.25" y2="497.5" stroke="#333" stroke-width="1.1"/>
<line x1="494.72" y1="502.7" x2="494.72" y2="497.5" stroke="#333" stroke-width="1.1"/>
<line x1="522.19" y1="502.7" x2="522.19" y2="497.5" stroke="#333" stroke-width="1.1"/>
<line x1="549.66" y1="502.7" x2="549.66" y2="497.5" stroke="#333" stroke-width="1.1"/>
<line x1="577.14" y1="502.7" x2="577.14" y2="497.5" stroke="#333" stroke-width="1.1"/>
<line x1="604.61" y1="502.7" x2="604.61" y2="497.5" stroke="#333" stroke-width="1.1"/>
<line x1="632.08" y1="502.7" x2="632.08" y2="497.5" stroke="#333" stroke-width="1.1"/>
<line x1="659.55" y1="502.7" x2="659.55" y2="497.5" stroke="#333" stroke-width="1.1"/>
<line x1="687.03" y1="502.7" x2="687.03" y2="497.5" stroke="#333" stroke-width="1.1"/>
<line x1="426.04" y1="502.7" x2="426.04" y2="499.7" stroke="#333" stroke-width="1.1"/>
<line x1="453.51" y1="502.7" x2="453.51" y2="499.7" stroke="#333" stroke-width="1.1"/>
<line x1="480.98" y1="502.7" x2="480.98" y2="499.7" stroke="#333" stroke-width="1.1"/>
<line x1="508.45" y1="502.7" x2="508.45" y2="499.7" stroke="#333" stroke-width="1.1"/>
<line x1="535.93" y1="502.7" x2="535.93" y2="499.7" stroke="#333" stroke-width="1.1"/>
<line x1="563.4" y1="502.7" x2="563.4" y2="499.7" stroke="#333" stroke-width="1.1"/>
<line x1="590.87" y1="502.7" x2="590.87" y2="499.7" stroke="#333" stroke-width="1.1"/>
<line x1="618.35" y1="502.7" x2="618.35" y2="499.7" stroke="#333" stroke-width="1.1"/>
<line x1="645.82" y1="502.7" x2="645.82" y2="499.7" stroke="#333" stroke-width="1.1"/>
<line x1="673.29" y1="502.7" x2="673.29" y2="499.7" stroke="#333" stroke-width="1.1"/>
<line x1="700.76" y1="502.7" x2="700.76" y2="499.7" stroke="#333" stroke-width="1.1"/>
<line x1="412.3" y1="477.7" x2="417.5" y2="477.7" stroke="#333" stroke-width="1.1"/>
<line x1="412.3" y1="428.1" x2="417.5" y2="428.1" stroke="#333" stroke-width="1.1"/>
<line x1="412.3" y1="378.5" x2="417.5" y2="378.5" stroke="#333" stroke-width="1.1"/>
<line x1="412.3" y1="328.9" x2="417.5" y2="328.9" stroke="#333" stroke-width="1.1"/>
<line x1="412.3" y1="502.5" x2="415.3" y2="502.5" stroke="#333" stroke-width="1.1"/>
<line x1="412.3" y1="452.9" x2="415.3" y2="452.9" stroke="#333" stroke-width="1.1"/>
<line x1="412.3" y1="403.3" x2="415.3" y2="403.3" stroke="#333" stroke-width="1.1"/>
<line x1="412.3" y1="353.7" x2="415.3" y2="353.7" stroke="#333" stroke-width="1.1"/>
<line x1="412.3" y1="304.1" x2="415.3" y2="304.1" stroke="#333" stroke-width="1.1"/>
<text x="412.3" y="516.9" font-family='"Liberation Sans", sans-serif' font-size="10.5" text-anchor="middle" fill="#222" font-weight="normal" >0</text>
<text x="439.77" y="516.9" font-family='"Liberation Sans", sans-serif' font-size="10.5" text-anchor="middle" fill="#222" font-weight="normal" >10</text>
<text x="467.25" y="516.9" font-family='"Liberation Sans", sans-serif' font-size="10.5" text-anchor="middle" fill="#222" font-weight="normal" >20</text>
<text x="494.72" y="516.9" font-family='"Liberation Sans", sans-serif' font-size="10.5" text-anchor="middle" fill="#222" font-weight="normal" >30</text>
<text x="522.19" y="516.9" font-family='"Liberation Sans", sans-serif' font-size="10.5" text-anchor="middle" fill="#222" font-weight="normal" >40</text>
<text x="549.66" y="516.9" font-family='"Liberation Sans", sans-serif' font-size="10.5" text-anchor="middle" fill="#222" font-weight="normal" >50</text>
<text x="577.14" y="516.9" font-family='"Liberation Sans", sans-serif' font-size="10.5" text-anchor="middle" fill="#222" font-weight="normal" >60</text>
<text x="604.61" y="516.9" font-family='"Liberation Sans", sans-serif' font-size="10.5" text-anchor="middle" fill="#222" font-weight="normal" >70</text>
<text x="632.08" y="516.9" font-family='"Liberation Sans", sans-serif' font-size="10.5" text-anchor="middle" fill="#222" font-weight="normal" >80</text>
<text x="659.55" y="516.9" font-family='"Liberation Sans", sans-serif' font-size="10.5" text-anchor="middle" fill="#222" font-weight="normal" >90</text>
<text x="687.03" y="516.9" font-family='"Liberation Sans", sans-serif' font-size="10.5" text-anchor="middle" fill="#222" font-weight="normal" >100</text>
<text x="714.5" y="516.9" font-family='"Liberation Sans", sans-serif' font-size="10.5" text-anchor="middle" fill="#222" font-weight="normal" >110</text>
<text transform="translate(407.3,481.7) scale(0.93,1)" x="0" y="0" font-family='"Liberation Sans", sans-serif' font-size="10.5" text-anchor="end" fill="#222" font-weight="normal" >0.000</text>
<text transform="translate(407.3,431.9) scale(0.93,1)" x="0" y="0" font-family='"Liberation Sans", sans-serif' font-size="10.5" text-anchor="end" fill="#222" font-weight="normal" >0.001</text>
<text transform="translate(407.3,382.1) scale(0.93,1)" x="0" y="0" font-family='"Liberation Sans", sans-serif' font-size="10.5" text-anchor="end" fill="#222" font-weight="normal" >0.002</text>
<text transform="translate(407.3,332.3) scale(0.93,1)" x="0" y="0" font-family='"Liberation Sans", sans-serif' font-size="10.5" text-anchor="end" fill="#222" font-weight="normal" >0.003</text>
<text transform="translate(407.3,282.5) scale(0.93,1)" x="0" y="0" font-family='"Liberation Sans", sans-serif' font-size="10.5" text-anchor="end" fill="#222" font-weight="normal" >0.004</text>
<text x="564.6" y="531.3" font-family='"Liberation Sans", sans-serif' font-size="12.2" text-anchor="middle" fill="#222" font-weight="normal" >Pore diameter (nm)</text>
<text transform="translate(377.7,400.9) rotate(-90)" x="0" y="0" font-family='"Liberation Sans", sans-serif' font-size="12.2" text-anchor="middle" fill="#222">Pore Volume (cm<tspan font-size="7.5" dy="-4.5">3</tspan><tspan dy="4.5">/g)</tspan></text>
<line x1="591.4" y1="322.6" x2="620" y2="322.6" stroke="#555" stroke-width="0.8" stroke-opacity="0.7"/>
<rect x="603.45" y="320.45" width="4.3" height="4.3" fill="#000"/>
<line x1="591.4" y1="338.1" x2="620" y2="338.1" stroke="#0000ff" stroke-width="0.8" stroke-opacity="0.7"/>
<polygon points="605.6,334.97 602.7,340.19 608.5,340.19" fill="#00f"/>
<line x1="591.4" y1="353.9" x2="620" y2="353.9" stroke="#ff0000" stroke-width="0.8" stroke-opacity="0.7"/>
<circle cx="605.6" cy="353.9" r="2.6" fill="#f00"/>
<text x="621" y="327.2" font-family='"Liberation Sans", sans-serif' font-size="12.8" text-anchor="start" fill="#111" font-weight="normal" >NiO</text>
<text x="621" y="342.7" font-family='"Liberation Sans", sans-serif' font-size="12.8" text-anchor="start" fill="#111" font-weight="normal" >NiO:GR=150:1</text>
<text x="621" y="358.5" font-family='"Liberation Sans", sans-serif' font-size="12.8" text-anchor="start" fill="#111" font-weight="normal" >NiO:GR=100:1</text>
<line x1="508.3" y1="441.2" x2="558.5" y2="369.6" stroke="#000" stroke-width="1.5"/>
<polygon points="561.8,365.2 554.9,369.5 559.6,372.9" fill="#000"/>
<rect x="412" y="279.2" width="50.9" height="37.4" fill="#000"/>
<text x="437.45" y="302.8" font-family='"Liberation Serif", serif' font-size="17.5" text-anchor="middle" fill="#fff" font-weight="bold" >(d)</text>
<ellipse cx="255.2" cy="270.8" rx="1.6" ry="0.9" fill="#666"/>
</svg></body></html>
